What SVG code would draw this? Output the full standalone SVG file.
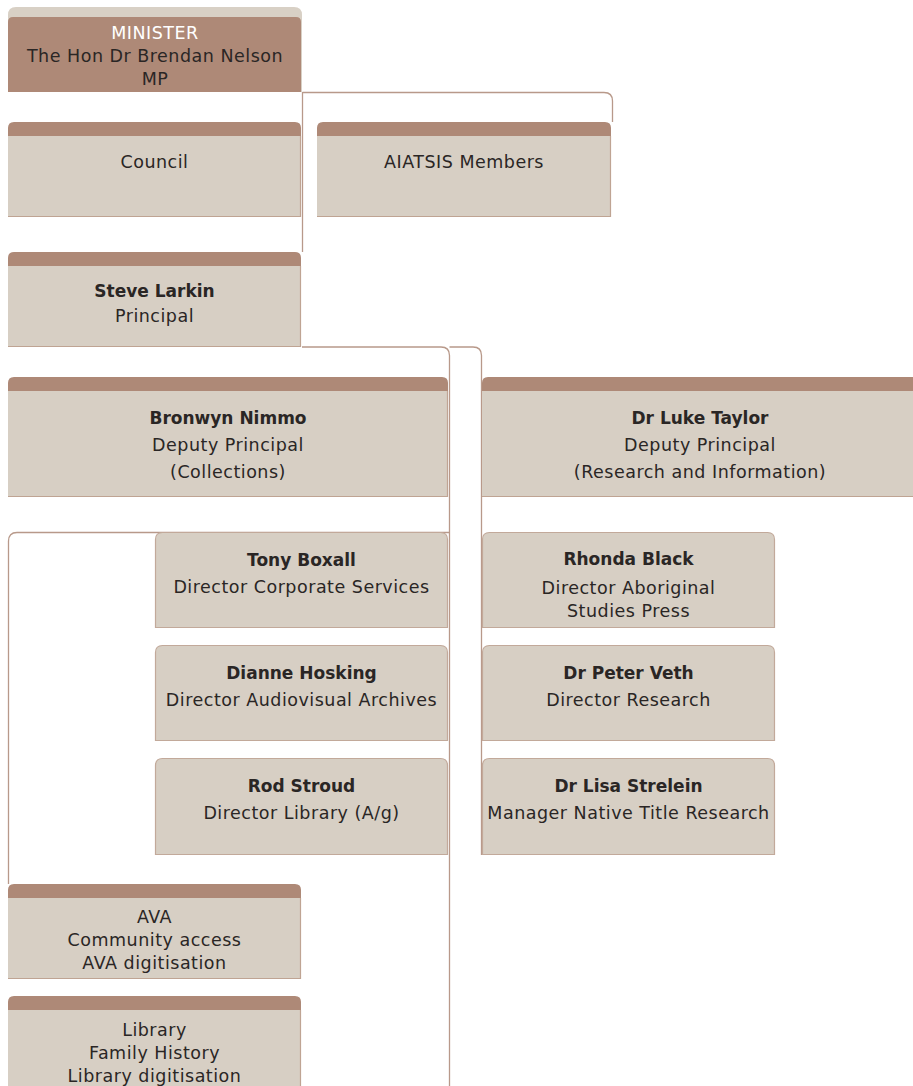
<svg xmlns="http://www.w3.org/2000/svg" width="913" height="1086" viewBox="0 0 913 1086">
<defs>
<style>
.hdr{fill:#ae8977}
.body{fill:#d7cfc4}
.edge{fill:none;stroke:#bfa493;stroke-width:1.2}
.dir{fill:#d7cfc4;stroke:#c2a99a;stroke-width:1.2}
.conn{fill:none;stroke:#b8998a;stroke-width:1.3}
text{font-family:"DejaVu Sans","Liberation Sans",sans-serif;font-size:17.5px;letter-spacing:0.5px;fill:#2a2625;text-anchor:middle}
.b{font-weight:bold;font-size:17px;letter-spacing:0}
.w{fill:#ffffff}
</style>
</defs>
<rect width="913" height="1086" fill="#ffffff"/>
<g id="connectors">
<path class="conn" d="M302.5,92.5 H604 Q612.5,92.5 612.5,101 V122"/>
<path class="conn" d="M302.5,92 V252"/>
<path class="conn" d="M302,347 H441 Q449.5,347 449.5,355.5 V1086"/>
<path class="conn" d="M449.5,347 H473 Q481.5,347 481.5,355.5 V855"/>
<path class="conn" d="M449,532.5 H17 Q8.5,532.5 8.5,541 V884"/>
</g>
<g id="minister">
<path fill="#d8d0c5" d="M8,92 V15 Q8,7 16,7 H294 Q302,7 302,15 V92 Z"/>
<path class="hdr" d="M8,92 V22 Q8,17 13,17 H296 Q301,17 301,22 V92 Z"/>
<text x="155" y="39" class="w">MINISTER</text>
<text x="155" y="62">The Hon Dr Brendan Nelson</text>
<text x="155" y="85">MP</text>
</g>
<g id="council">
<path class="hdr" d="M8,136 V128 Q8,122 14,122 H295 Q301,122 301,128 V136 Z"/>
<rect class="body" x="8" y="136" width="293" height="81"/>
<path class="edge" d="M300.5,136 V216.5 H8"/>
<text x="154.5" y="168">Council</text>
</g>
<g id="aiatsis">
<path class="hdr" d="M317,136 V128 Q317,122 323,122 H605 Q611,122 611,128 V136 Z"/>
<rect class="body" x="317" y="136" width="294" height="81"/>
<path class="edge" d="M610.5,136 V216.5 H317"/>
<text x="464" y="168">AIATSIS Members</text>
</g>
<g id="steve">
<path class="hdr" d="M8,266 V258 Q8,252 14,252 H295 Q301,252 301,258 V266 Z"/>
<rect class="body" x="8" y="266" width="293" height="81"/>
<path class="edge" d="M300.5,266 V346.5 H8"/>
<text x="154.5" y="297" class="b">Steve Larkin</text>
<text x="154.5" y="322">Principal</text>
</g>
<g id="bronwyn">
<path class="hdr" d="M8,391 V383 Q8,377 14,377 H442 Q448,377 448,383 V391 Z"/>
<rect class="body" x="8" y="391" width="440" height="106"/>
<path class="edge" d="M447.5,391 V496.5 H8"/>
<text x="228" y="424" class="b">Bronwyn Nimmo</text>
<text x="228" y="451">Deputy Principal</text>
<text x="228" y="478">(Collections)</text>
</g>
<g id="luke">
<path class="hdr" d="M482,391 V383 Q482,377 488,377 H930 V391 Z"/>
<rect class="body" x="482" y="391" width="448" height="106"/>
<path class="edge" d="M482,496.5 H930"/>
<text x="700" y="424" class="b">Dr Luke Taylor</text>
<text x="700" y="451">Deputy Principal</text>
<text x="700" y="478">(Research and Information)</text>
</g>
<g id="tony">
<path class="dir" d="M155.5,627.5 V539.5 Q155.5,532.5 162.5,532.5 H440.5 Q447.5,532.5 447.5,539.5 V627.5 Z"/>
<text x="301.5" y="566" class="b">Tony Boxall</text>
<text x="301.5" y="593">Director Corporate Services</text>
</g>
<g id="dianne">
<path class="dir" d="M155.5,740.5 V652.5 Q155.5,645.5 162.5,645.5 H440.5 Q447.5,645.5 447.5,652.5 V740.5 Z"/>
<text x="301.5" y="679" class="b">Dianne Hosking</text>
<text x="301.5" y="706">Director Audiovisual Archives</text>
</g>
<g id="rod">
<path class="dir" d="M155.5,854.5 V765.5 Q155.5,758.5 162.5,758.5 H440.5 Q447.5,758.5 447.5,765.5 V854.5 Z"/>
<text x="301.5" y="792" class="b">Rod Stroud</text>
<text x="301.5" y="819">Director Library (A/g)</text>
</g>
<g id="rhonda">
<path class="dir" d="M482.5,627.5 V539.5 Q482.5,532.5 489.5,532.5 H767.5 Q774.5,532.5 774.5,539.5 V627.5 Z"/>
<text x="628.5" y="565" class="b">Rhonda Black</text>
<text x="628.5" y="594">Director Aboriginal</text>
<text x="628.5" y="617">Studies Press</text>
</g>
<g id="peter">
<path class="dir" d="M482.5,740.5 V652.5 Q482.5,645.5 489.5,645.5 H767.5 Q774.5,645.5 774.5,652.5 V740.5 Z"/>
<text x="628.5" y="679" class="b">Dr Peter Veth</text>
<text x="628.5" y="706">Director Research</text>
</g>
<g id="lisa">
<path class="dir" d="M482.5,854.5 V765.5 Q482.5,758.5 489.5,758.5 H767.5 Q774.5,758.5 774.5,765.5 V854.5 Z"/>
<text x="628.5" y="792" class="b">Dr Lisa Strelein</text>
<text x="628.5" y="819">Manager Native Title Research</text>
</g>
<g id="ava">
<path class="hdr" d="M8,898 V890 Q8,884 14,884 H295 Q301,884 301,890 V898 Z"/>
<rect class="body" x="8" y="898" width="293" height="81"/>
<path class="edge" d="M300.5,898 V978.5 H8"/>
<text x="154.5" y="923">AVA</text>
<text x="154.5" y="946">Community access</text>
<text x="154.5" y="969">AVA digitisation</text>
</g>
<g id="library">
<path class="hdr" d="M8,1010 V1002 Q8,996 14,996 H295 Q301,996 301,1002 V1010 Z"/>
<rect class="body" x="8" y="1010" width="293" height="80"/>
<path class="edge" d="M300.5,1010 V1090"/>
<text x="154.5" y="1036">Library</text>
<text x="154.5" y="1059">Family History</text>
<text x="154.5" y="1082">Library digitisation</text>
</g>
</svg>
